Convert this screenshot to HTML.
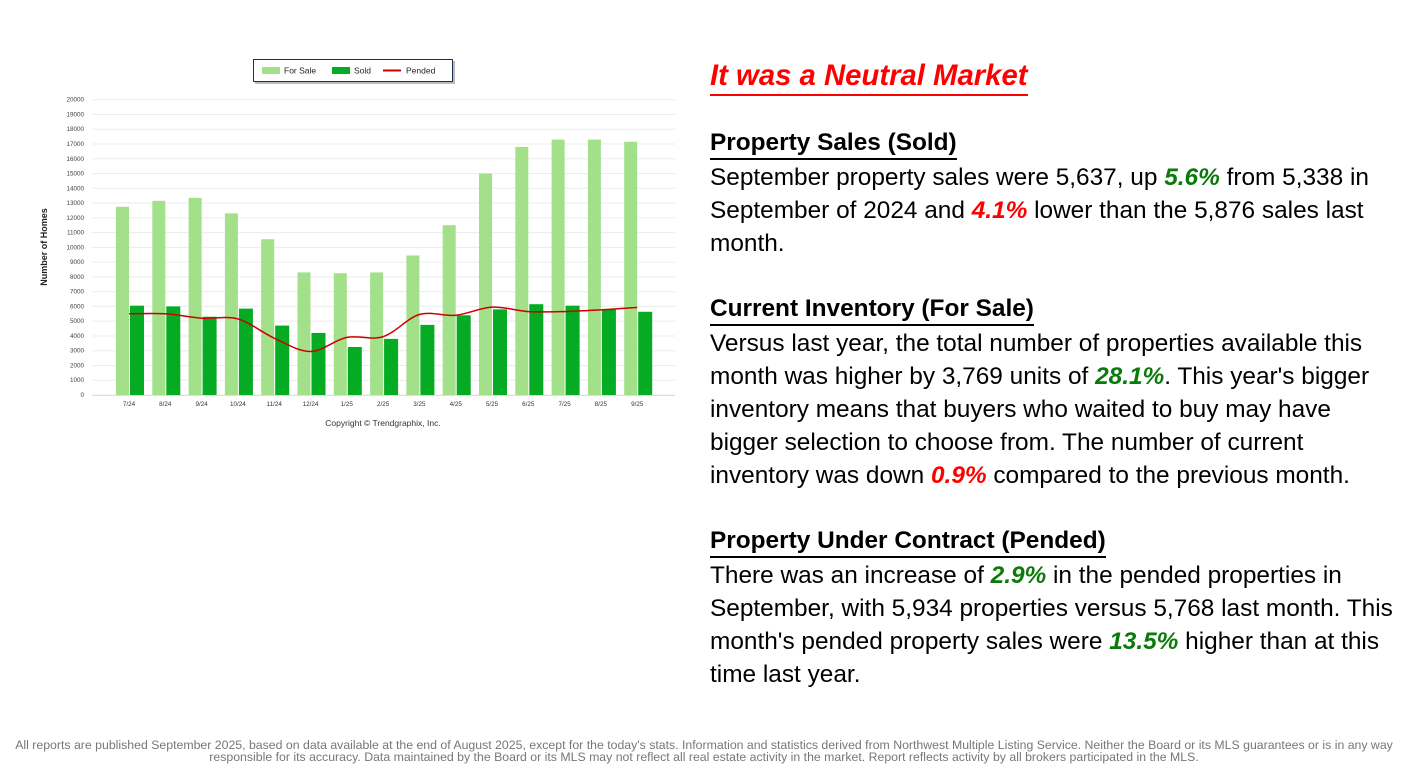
<!DOCTYPE html>
<html><head><meta charset="utf-8"><style>
body{margin:0;width:1408px;height:777px;background:#fff;position:relative;overflow:hidden;font-family:"Liberation Sans",Arial,sans-serif}
.t{position:absolute;left:710px;white-space:nowrap;color:#000}
.title{font-size:29.3px;font-weight:bold;font-style:italic;color:#ff0000;top:58px;border-bottom:2.5px solid #ff0000;line-height:36px;width:318px}
.h{font-size:24.4px;font-weight:bold;line-height:28px;border-bottom:2.5px solid #000;padding-bottom:1px}
.b{font-size:24.4px;line-height:33px}
.g{color:#0a7a0a;font-weight:bold;font-style:italic}
.r{color:#ff0000;font-weight:bold;font-style:italic}
.foot{position:absolute;left:0;width:1408px;top:739px;text-align:center;font-size:12.3px;line-height:12px;color:#777}
</style></head><body>
<svg id="c" width="700" height="440" style="position:absolute;left:0;top:0" font-family="Liberation Sans, Arial, sans-serif"></svg>
<div class="t title">It was a Neutral Market</div>
<div class="t h" style="top:129px">Property Sales (Sold)</div>
<div class="t b" style="top:161px">September property sales were 5,637, up <span class="g">5.6%</span> from 5,338 in</div>
<div class="t b" style="top:194px">September of 2024 and <span class="r">4.1%</span> lower than the 5,876 sales last</div>
<div class="t b" style="top:227px">month.</div>
<div class="t h" style="top:295px">Current Inventory (For Sale)</div>
<div class="t b" style="top:327px">Versus last year, the total number of properties available this</div>
<div class="t b" style="top:360px">month was higher by 3,769 units of <span class="g">28.1%</span>. This year's bigger</div>
<div class="t b" style="top:393px">inventory means that buyers who waited to buy may have</div>
<div class="t b" style="top:426px">bigger selection to choose from. The number of current</div>
<div class="t b" style="top:459px">inventory was down <span class="r">0.9%</span> compared to the previous month.</div>
<div class="t h" style="top:527px">Property Under Contract (Pended)</div>
<div class="t b" style="top:559px">There was an increase of <span class="g">2.9%</span> in the pended properties in</div>
<div class="t b" style="top:592px">September, with 5,934 properties versus 5,768 last month. This</div>
<div class="t b" style="top:625px">month's pended property sales were <span class="g">13.5%</span> higher than at this</div>
<div class="t b" style="top:658px">time last year.</div>
<div class="foot">All reports are published September 2025, based on data available at the end of August 2025, except for the today's stats. Information and statistics derived from Northwest Multiple Listing Service. Neither the Board or its MLS guarantees or is in any way<br>responsible for its accuracy. Data maintained by the Board or its MLS may not reflect all real estate activity in the market. Report reflects activity by all brokers participated in the MLS.</div>
<script>
var s=document.getElementById('c'),h='';
function y(v){return 395-v*0.014765;}
for(var v=0;v<=20000;v+=1000){var yy=y(v);h+='<line x1="92" x2="675" y1="'+yy+'" y2="'+yy+'" stroke="#ececec" stroke-width="1"/><text x="84" y="'+(yy+2)+'" font-size="6.3" text-anchor="end" fill="#444">'+v+'</text>';}
h+='<line x1="92" x2="675" y1="395.5" y2="395.5" stroke="#ddd"/>';
var lab=['7/24','8/24','9/24','10/24','11/24','12/24','1/25','2/25','3/25','4/25','5/25','6/25','7/25','8/25','9/25'];
var fs=[12750,13150,13350,12300,10550,8300,8250,8300,9450,11500,15000,16800,17300,17300,17150];
var so=[6050,6000,5300,5850,4700,4200,3250,3800,4750,5400,5800,6150,6050,5800,5637];
var pe=[5500,5500,5200,5150,3850,2950,3900,3950,5450,5400,5950,5650,5650,5768,5934];
var pts=[];
for(var i=0;i<15;i++){var cx=130+36.3*i;
h+='<rect x="'+(cx-14)+'" y="'+y(fs[i])+'" width="13" height="'+(395-y(fs[i]))+'" fill="#a3e08a"/>';
h+='<rect x="'+cx+'" y="'+y(so[i])+'" width="14" height="'+(395-y(so[i]))+'" fill="#05ab22"/>';
h+='<text x="'+(cx-1)+'" y="406" font-size="6.3" text-anchor="middle" fill="#333">'+lab[i]+'</text>';
pts.push([cx-1,y(pe[i])]);}
var d='M'+pts[0][0]+' '+pts[0][1];
for(var i=0;i<14;i++){var p0=pts[Math.max(i-1,0)],p1=pts[i],p2=pts[i+1],p3=pts[Math.min(i+2,14)];
d+=' C'+(p1[0]+(p2[0]-p0[0])/6)+' '+(p1[1]+(p2[1]-p0[1])/6)+' '+(p2[0]-(p3[0]-p1[0])/6)+' '+(p2[1]-(p3[1]-p1[1])/6)+' '+p2[0]+' '+p2[1];}
h+='<path d="'+d+'" fill="none" stroke="#cc0000" stroke-width="1.5"/>';
h+='<text transform="translate(47,247) rotate(-90)" font-size="9" font-weight="bold" text-anchor="middle" fill="#222">Number of Homes</text>';
h+='<text x="383" y="426" font-size="8.5" text-anchor="middle" fill="#333">Copyright © Trendgraphix, Inc.</text>';
h+='<rect x="255" y="61" width="200" height="23" fill="#bbb"/><rect x="253.5" y="59.5" width="199" height="22" fill="#fff" stroke="#1f2e5a" stroke-width="1"/>';
h+='<rect x="262" y="67" width="18" height="7" fill="#a3e08a"/><text x="284" y="73.5" font-size="8.5" fill="#222">For Sale</text>';
h+='<rect x="332" y="67" width="18" height="7" fill="#05ab22"/><text x="354" y="73.5" font-size="8.5" fill="#222">Sold</text>';
h+='<line x1="383" x2="401" y1="70.5" y2="70.5" stroke="#cc0000" stroke-width="2"/><text x="406" y="73.5" font-size="8.5" fill="#222">Pended</text>';
s.innerHTML=h;
</script>
</body></html>
